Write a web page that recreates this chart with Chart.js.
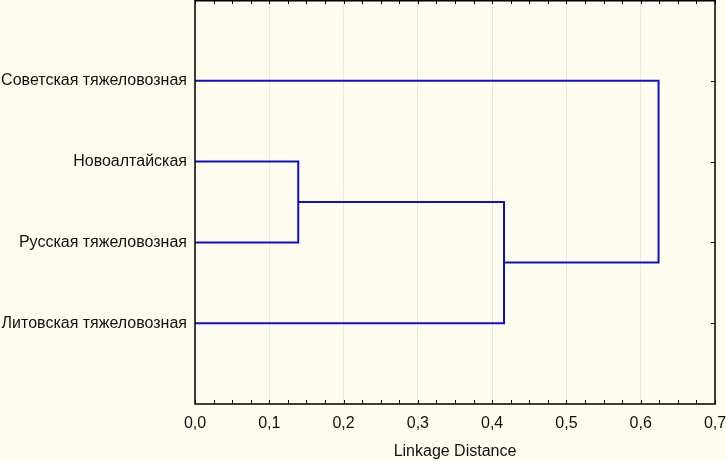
<!DOCTYPE html>
<html>
<head>
<meta charset="utf-8">
<script src="https://cdn.jsdelivr.net/npm/chart.js@4.4.1/dist/chart.umd.min.js"></script>
<style>
  html, body { margin: 0; padding: 0; background: #fffcf0; }
  #wrap { width: 726px; height: 461px; }
</style>
</head>
<body>
<div id="wrap"><canvas id="chart" width="726" height="461"></canvas></div>
<script>
// leaves, top to bottom
const leaves = [
  "Советская тяжеловозная",
  "Новоалтайская",
  "Русская тяжеловозная",
  "Литовская тяжеловозная",
];
// linkage: cluster n+i joins mergeA[i] and mergeB[i] at mergeHeight[i]
const mergeA = [1, 4, 0];
const mergeB = [2, 3, 5];
const mergeHeight = [0.139, 0.416, 0.624];
const xTicks = [0, 0.1, 0.2, 0.3, 0.4, 0.5, 0.6, 0.7];

const lineColor = "#1010cc";

// positions of every node (leaf index + 1 for leaves, midpoint for clusters)
const nodeY = leaves.map((_, i) => i + 1);
const nodeX = leaves.map(() => 0);
const datasets = [];
mergeA.forEach((a, i) => {
  const b = mergeB[i];
  const h = mergeHeight[i];
  datasets.push({
    data: [
      { x: nodeX[a], y: nodeY[a] },
      { x: h, y: nodeY[a] },
      { x: h, y: nodeY[b] },
      { x: nodeX[b], y: nodeY[b] },
    ],
    borderColor: lineColor,
    borderWidth: 2,
    pointRadius: 0,
    showLine: true,
    fill: false,
    tension: 0,
  });
  nodeY.push((nodeY[a] + nodeY[b]) / 2);
  nodeX.push(h);
});

const fontSpec = { family: "'Liberation Sans', Arial, sans-serif", size: 16 };

const framePlugin = {
  id: "frame",
  afterDatasetsDraw(chart) {
    const { ctx, chartArea: a, scales } = chart;
    ctx.save();
    ctx.strokeStyle = "#000";
    ctx.lineWidth = 1;
    ctx.beginPath();
    // minor ticks on top and bottom, inward
    const xs = scales.x;
    for (let v = xs.min; v <= xs.max + 1e-9; v += 0.025) {
      const px = Math.round(xs.getPixelForValue(v)) + 0.5;
      ctx.moveTo(px, a.bottom);
      ctx.lineTo(px, a.bottom - 4);
      ctx.moveTo(px, a.top);
      ctx.lineTo(px, a.top + 4);
    }
    // leaf ticks on the right, inward
    const ys = scales.y;
    leaves.forEach((_, i) => {
      const py = Math.round(ys.getPixelForValue(i + 1)) + 0.5;
      ctx.moveTo(a.right, py);
      ctx.lineTo(a.right - 4, py);
    });
    ctx.stroke();
    ctx.lineWidth = 1.5;
    ctx.strokeRect(a.left, a.top + 0.75, a.right - a.left, a.bottom - a.top - 0.75);
    ctx.restore();
  },
};

new Chart(document.getElementById("chart"), {
  type: "scatter",
  data: { datasets },
  options: {
    responsive: false,
    animation: false,
    layout: { padding: { top: 0, right: 11, left: 0, bottom: 0 }, autoPadding: false },
    plugins: {
      legend: { display: false },
      tooltip: { enabled: false },
    },
    scales: {
      x: {
        type: "linear",
        min: 0,
        max: 0.7,
        afterBuildTicks: (s) => { s.ticks = xTicks.map((v) => ({ value: v })); },
        afterFit: (s) => {
          s.height = 57;
          s.paddingLeft = 0;
          s.paddingRight = 0;
        },
        ticks: {
          color: "#111",
          font: fontSpec,
          padding: 10,
          maxRotation: 0,
          autoSkip: false,
          callback: (v) => Number(v).toFixed(1).replace(".", ","),
        },
        grid: { color: "#e6e6ec", drawTicks: false, lineWidth: 1 },
        border: { display: false },
        title: {
          display: true,
          text: "Linkage Distance",
          color: "#111",
          font: fontSpec,
          padding: { top: 4, bottom: 0 },
        },
      },
      y: {
        type: "linear",
        min: 0,
        max: leaves.length + 1,
        reverse: true,
        afterBuildTicks: (s) => { s.ticks = leaves.map((_, i) => ({ value: i + 1 })); },
        afterFit: (s) => {
          s.width = 195;
          s.paddingTop = 0;
          s.paddingBottom = 0;
        },
        ticks: {
          color: "#111",
          font: fontSpec,
          padding: 8,
          autoSkip: false,
          callback: (v) => leaves[v - 1] || "",
        },
        grid: { display: false, drawTicks: false },
        border: { display: false },
      },
    },
  },
  plugins: [framePlugin],
});
</script>
</body>
</html>
